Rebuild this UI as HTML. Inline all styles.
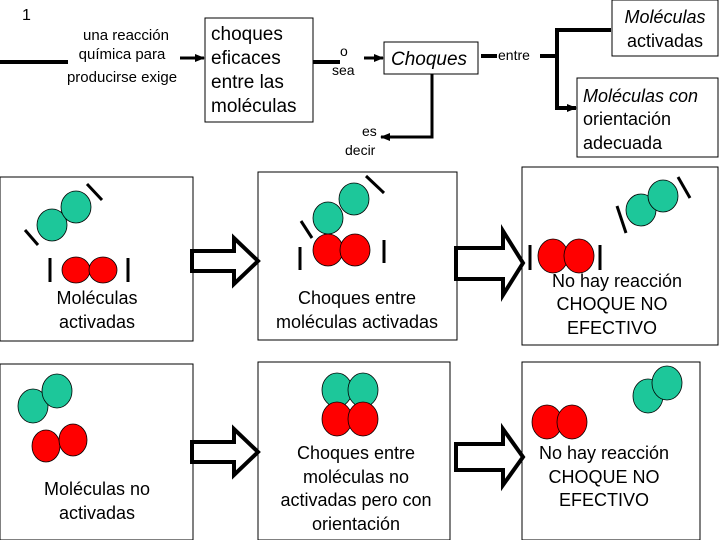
<!DOCTYPE html>
<html><head><meta charset="utf-8"><style>
html,body{margin:0;padding:0;background:#fff;}
svg{display:block;}
text{font-family:"Liberation Sans",sans-serif;fill:#000;}
</style></head><body>
<svg width="720" height="540" viewBox="0 0 720 540" xmlns="http://www.w3.org/2000/svg">
<defs><marker id="a" markerWidth="10" markerHeight="10" refX="9" refY="5" orient="auto" markerUnits="userSpaceOnUse"><path d="M0,1 L10,5 L0,9 z" fill="#000"/></marker></defs>
<text x="22" y="20" font-size="16">1</text>
<line x1="0" y1="62" x2="68" y2="62" stroke="#000" stroke-width="4"/>
<g font-size="15" text-anchor="middle">
<text x="126" y="40">una reacción</text>
<text x="122" y="59">química para</text>
<text x="122" y="82">producirse exige</text>
</g>
<line x1="180" y1="58" x2="204" y2="58" stroke="#000" stroke-width="3" marker-end="url(#a)"/>
<rect x="205" y="18" width="108" height="104" fill="#fff" stroke="#000"/>
<g font-size="19"><text x="211" y="40">choques</text><text x="211" y="64">eficaces</text><text x="211" y="88">entre las</text><text x="211" y="112">moléculas</text></g>
<line x1="313" y1="62" x2="340" y2="62" stroke="#000" stroke-width="4"/>
<text x="340" y="56" font-size="14">o</text><text x="332" y="75" font-size="14">sea</text>
<line x1="364" y1="58" x2="383" y2="58" stroke="#000" stroke-width="3" marker-end="url(#a)"/>
<rect x="384" y="42" width="94" height="32" fill="#fff" stroke="#000"/>
<text x="391" y="65" font-size="19" font-style="italic">Choques</text>
<polyline points="432,74 432,137 381,137" fill="none" stroke="#000" stroke-width="3" marker-end="url(#a)"/>
<text x="362" y="136" font-size="14">es</text><text x="345" y="155" font-size="14">decir</text>
<line x1="481" y1="56" x2="497" y2="56" stroke="#000" stroke-width="4"/>
<text x="498" y="60" font-size="14">entre</text>
<line x1="540" y1="56" x2="556" y2="56" stroke="#000" stroke-width="4"/>
<polyline points="611,30 557,30 557,108 576,108" fill="none" stroke="#000" stroke-width="4" marker-end="url(#a)"/>
<rect x="612" y="0" width="106" height="56" fill="#fff" stroke="#000"/>
<g font-size="18" text-anchor="middle"><text x="665" y="23" font-style="italic">Moléculas</text><text x="665" y="47">activadas</text></g>
<rect x="577" y="78" width="141" height="79" fill="#fff" stroke="#000"/>
<g font-size="18"><text x="583" y="102" font-style="italic">Moléculas con</text><text x="583" y="125">orientación</text><text x="583" y="149">adecuada</text></g>

<g fill="#fff" stroke="#000">
<rect x="0" y="177" width="193" height="164"/>
<rect x="258" y="172" width="199" height="168"/>
<rect x="522" y="167" width="196" height="178"/>
<rect x="0" y="364" width="193" height="176"/>
<rect x="258" y="362" width="192" height="178"/>
<rect x="522" y="362" width="178" height="178"/>
</g>
<g fill="#fff" stroke="#000" stroke-width="4">
<path d="M192,251 L234,251 L234,238 L258,261 L234,284 L234,271 L192,271 Z"/>
<path d="M456,248 L503,248 L503,231 L523,263 L503,295 L503,279 L456,279 Z"/>
<path d="M192,442 L234,442 L234,429 L258,452 L234,475 L234,462 L192,462 Z"/>
<path d="M456,444 L503,444 L503,429 L523,457 L503,485 L503,470 L456,470 Z"/>
</g>
<g stroke="#000" stroke-width="0.8">
<g fill="#1dc79a">
<ellipse cx="52" cy="225" rx="15" ry="16"/><ellipse cx="76" cy="207" rx="15" ry="16"/>
<ellipse cx="328" cy="218" rx="15" ry="16"/><ellipse cx="354" cy="199" rx="15" ry="16"/>
<ellipse cx="641" cy="210" rx="15" ry="16"/><ellipse cx="663" cy="196" rx="15" ry="16"/>
<ellipse cx="33" cy="406" rx="15" ry="17"/><ellipse cx="57" cy="391" rx="15" ry="17"/>
<ellipse cx="337" cy="390" rx="15" ry="17"/><ellipse cx="363" cy="390" rx="15" ry="17"/>
<ellipse cx="648" cy="396" rx="15" ry="17"/><ellipse cx="667" cy="383" rx="15" ry="17"/>
</g>
<g fill="#f00">
<ellipse cx="76" cy="270" rx="14" ry="13"/><ellipse cx="103" cy="270" rx="14" ry="13"/>
<ellipse cx="328" cy="250" rx="15" ry="16"/><ellipse cx="355" cy="250" rx="15" ry="16"/>
<ellipse cx="553" cy="256" rx="15" ry="17"/><ellipse cx="579" cy="256" rx="15" ry="17"/>
<ellipse cx="46" cy="446" rx="14" ry="16"/><ellipse cx="73" cy="440" rx="14" ry="16"/>
<ellipse cx="337" cy="419" rx="15" ry="17"/><ellipse cx="363" cy="419" rx="15" ry="17"/>
<ellipse cx="547" cy="422" rx="15" ry="17"/><ellipse cx="572" cy="422" rx="15" ry="17"/>
</g>
</g>
<g stroke="#000" stroke-width="3">
<line x1="87" y1="184" x2="102" y2="200"/><line x1="25" y1="230" x2="38" y2="245"/>
<line x1="50" y1="258" x2="50" y2="282"/><line x1="128" y1="258" x2="128" y2="282"/>
<line x1="366" y1="176" x2="384" y2="193"/><line x1="301" y1="221" x2="312" y2="238"/>
<line x1="300" y1="247" x2="300" y2="270"/><line x1="384" y1="240" x2="384" y2="263"/>
<line x1="678" y1="177" x2="690" y2="198"/><line x1="617" y1="206" x2="626" y2="233"/>
<line x1="530" y1="245" x2="530" y2="270"/><line x1="600" y1="245" x2="600" y2="270"/>
</g>
<g font-size="18" text-anchor="middle">
<text x="97" y="304">Moléculas</text><text x="97" y="328">activadas</text>
<text x="357" y="304">Choques entre</text><text x="357" y="328">moléculas activadas</text>
<text x="617" y="287">No hay reacción</text><text x="612" y="310">CHOQUE NO</text><text x="612" y="334">EFECTIVO</text>
<text x="97" y="495">Moléculas no</text><text x="97" y="519">activadas</text>
<text x="356" y="459">Choques entre</text><text x="356" y="483">moléculas no</text><text x="356" y="506">activadas pero con</text><text x="356" y="530">orientación</text>
<text x="604" y="459">No hay reacción</text><text x="604" y="483">CHOQUE NO</text><text x="604" y="506">EFECTIVO</text>
</g>
</svg>
</body></html>
